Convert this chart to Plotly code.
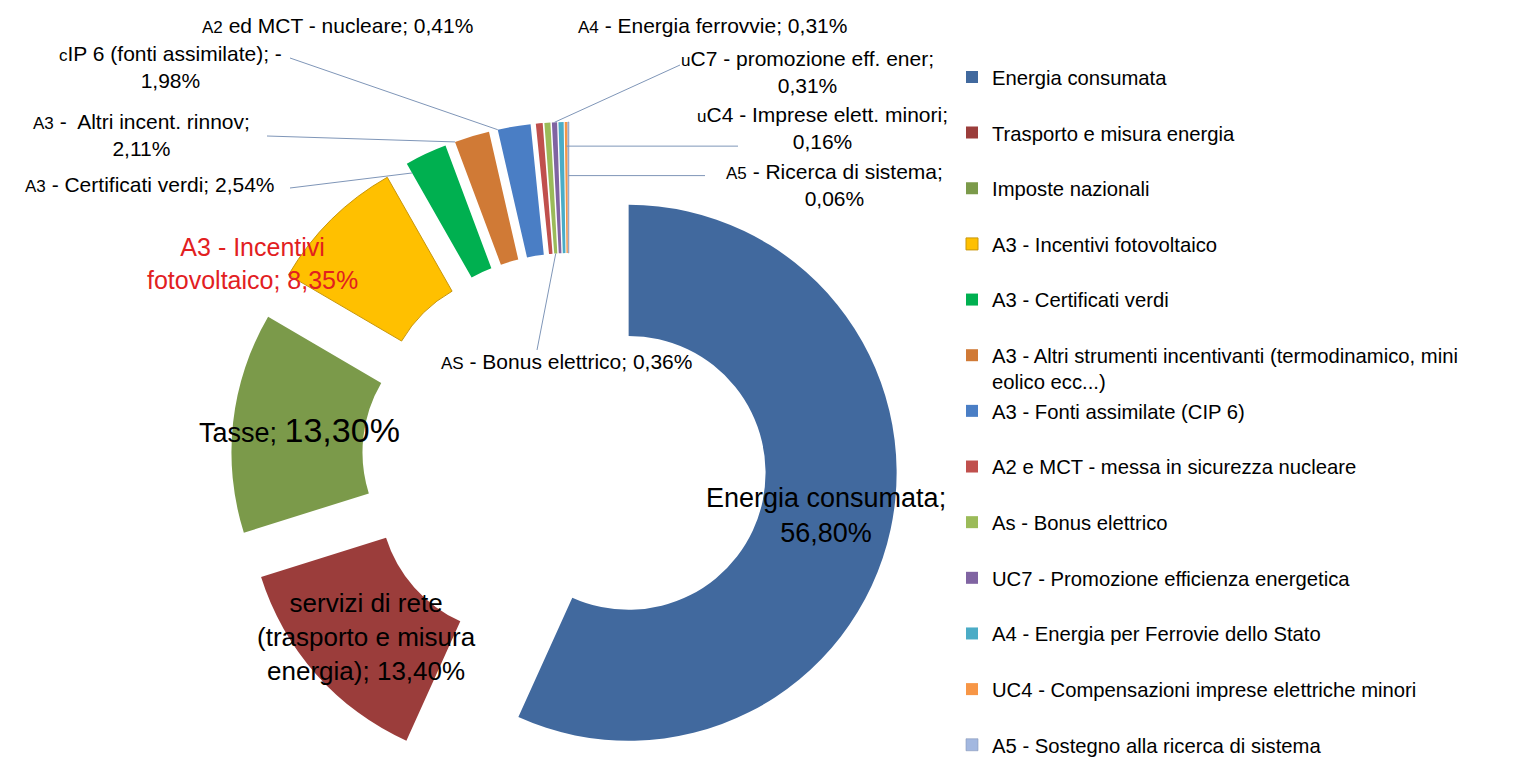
import math
import plotly.graph_objects as go

# ---------------- data ----------------
LEGEND_LABELS = [
    "Energia consumata",
    "Trasporto e misura energia",
    "Imposte nazionali",
    "A3 - Incentivi fotovoltaico",
    "A3 - Certificati verdi",
    "A3 - Altri strumenti incentivanti (termodinamico, mini<br>eolico ecc...)",
    "A3 - Fonti assimilate (CIP 6)",
    "A2 e MCT - messa in sicurezza nucleare",
    "As - Bonus elettrico",
    "UC7 - Promozione efficienza energetica",
    "A4 - Energia per Ferrovie dello Stato",
    "UC4 - Compensazioni imprese elettriche minori",
    "A5 - Sostegno alla ricerca di sistema",
]
VALUES = [56.80, 13.40, 13.30, 8.35, 2.54, 2.11, 1.98, 0.41, 0.36, 0.31, 0.31, 0.16, 0.06]


def sc(t, size=17):
    return "<span style='font-size:%dpx'>%s</span>" % (size, t)


SLICE_LABELS = [
    "Energia consumata;<br>{p}",
    "servizi di rete<br>(trasporto e misura<br>energia); {p}",
    "Tasse; <span style='font-size:34px'>{p}</span>",
    "A3 - Incentivi<br>fotovoltaico; {p}",
    sc("A3") + " - Certificati verdi; {p}",
    sc("A3") + " -  Altri incent. rinnov;<br>{p}",
    sc("c") + "IP 6 (fonti assimilate); -<br>{p}",
    sc("A2") + " ed MCT - nucleare; {p}",
    sc("AS") + " - Bonus elettrico; {p}",
    sc("u") + "C7 - promozione eff. ener;<br>{p}",
    sc("A4") + " - Energia ferrovvie; {p}",
    sc("u") + "C4 - Imprese elett. minori;<br>{p}",
    sc("A5") + " - Ricerca di sistema;<br>{p}",
]
COLORS = ["#41699E", "#9B3D3B", "#7B9A4A", "#FFC000", "#00B050", "#D07A36",
          "#4A7EC5", "#C0504D", "#9BBB59", "#8064A2", "#4BACC6", "#F79646", "#A3B8E0"]
LINE_COLORS = ["#41699E", "#9B3D3B", "#7B9A4A", "#C8960A", "#00B050", "#D07A36",
               "#4A7EC5", "#C0504D", "#9BBB59", "#8064A2", "#4BACC6", "#F79646", "#8797B8"]
LINE_WIDTHS = [0, 0, 0, 1, 0, 0, 0, 0, 0, 0, 0, 0, 0.6]

# ---------------- layout constants ----------------
W, H = 1522, 757
OFF = 8                          # page body margin: page px = figure px + OFF
CX, CY = 569.0, 460.0            # pie centre (page px)
R_OUT = 268.0                    # outer radius (px)
HOLE = 0.511
PULL_PX = [61] + [70] * 12       # explosion distance per slice (px)
FONT = "Liberation Sans, Arial, sans-serif"

LABEL_POS = [(826, 515), (366, 637), (299, 430), (252, 263), (150, 185), (141, 135),
             (170, 67), (337, 25), (566, 362), (807, 72), (712, 25), (822, 128), (834, 185)]
LABEL_SIZE = [27, 26, 27, 25, 21, 21, 21, 21, 21, 21, 21, 21, 21]
LABEL_COLOR = ["#000000"] * 13
LABEL_COLOR[3] = "#E2201F"

n = len(VALUES)
total = sum(VALUES)
starts, mids = [], []
acc = 0.0
for v in VALUES:
    a0 = acc / total * 360.0
    acc += v
    a1 = acc / total * 360.0
    starts.append(a0)
    mids.append((a0 + a1) / 2.0)


def unit(deg):
    t = math.radians(deg)
    return math.sin(t), -math.cos(t)


centers = []
for i in range(n):
    ux, uy = unit(mids[i])
    sx = CX + PULL_PX[i] * ux
    sy = CY + PULL_PX[i] * uy
    sx = min(max(sx, R_OUT + OFF), W + OFF - R_OUT)
    sy = min(max(sy, R_OUT + OFF), H + OFF - R_OUT - 0.5)
    centers.append((sx, sy))


def clamp01(v):
    return min(max(v, 0.0), 1.0)


def fx(x):
    return (x - OFF) / W


def fy(y):
    return 1.0 - (y - OFF) / H


fig = go.Figure()

# legend-carrying trace (drawn at a negligible size)
fig.add_trace(go.Pie(
    labels=LEGEND_LABELS, values=VALUES, sort=False, direction="clockwise",
    marker=dict(colors=COLORS, line=dict(color=LINE_COLORS, width=LINE_WIDTHS)),
    textinfo="none", hoverinfo="skip", showlegend=True,
    domain=dict(x=[0.9996, 1.0], y=[0.9996, 1.0]),
))

# one trace per slice, each centred at its exploded position
for i in range(n):
    sx, sy = centers[i]
    cols = [COLORS[j] if j == i else "rgba(0,0,0,0)" for j in range(n)]
    lw = [LINE_WIDTHS[j] if j == i else 0 for j in range(n)]
    fig.add_trace(go.Pie(
        labels=LEGEND_LABELS, values=VALUES, sort=False, direction="clockwise",
        rotation=0, hole=HOLE, textinfo="none", showlegend=False,
        marker=dict(colors=cols, line=dict(color=LINE_COLORS, width=lw)),
        hovertemplate="%{label}: %{value}%<extra></extra>",
        domain=dict(x=[clamp01(fx(sx - R_OUT)), clamp01(fx(sx + R_OUT))],
                    y=[clamp01(fy(sy + R_OUT)), clamp01(fy(sy - R_OUT))]),
    ))

# slice labels
annotations = []
for i in range(n):
    pct = ("%.2f" % VALUES[i]).replace(".", ",") + "%"
    txt = SLICE_LABELS[i].replace("{p}", pct)
    x, y = LABEL_POS[i]
    annotations.append(dict(
        x=fx(x), y=fy(y), xref="paper", yref="paper", text=txt, showarrow=False,
        xanchor="center", yanchor="middle", align="center",
        font=dict(family=FONT, size=LABEL_SIZE[i], color=LABEL_COLOR[i]),
    ))


def slice_point(i, rho_frac, ang):
    sx, sy = centers[i]
    ux, uy = unit(ang)
    return sx + R_OUT * rho_frac * ux, sy + R_OUT * rho_frac * uy


shapes = []
LINE_STYLE = dict(color="#7F96B8", width=1)


def leader(p_label, p_slice):
    shapes.append(dict(type="line", xref="paper", yref="paper",
                       x0=fx(p_label[0]), y0=fy(p_label[1]),
                       x1=fx(p_slice[0]), y1=fy(p_slice[1]), line=LINE_STYLE))


leader((290, 188), slice_point(4, 0.96, starts[4]))
leader((267, 136), slice_point(5, 1.0, starts[5]))
leader((290, 58), slice_point(6, 1.0, starts[6]))
leader((537, 350), slice_point(8, HOLE, mids[8]))
leader((680, 65), slice_point(9, 1.0, mids[9]))
p = slice_point(11, 0.91, mids[11])
leader((738, p[1]), p)
p = slice_point(12, 0.80, mids[12])
leader((705, p[1]), p)

legend_text = []
for k, lab in enumerate(LEGEND_LABELS):
    if "<br>" in lab or k == n - 1:
        legend_text.append(lab)
    else:
        legend_text.append(lab + "<br>\u00a0")
fig.data[0].labels = legend_text

fig.update_layout(
    width=W, height=H,
    margin=dict(l=0, r=0, t=0, b=0, autoexpand=False),
    paper_bgcolor="white", plot_bgcolor="white",
    annotations=annotations, shapes=shapes,
    legend=dict(x=944 / W, y=1 - 49.3 / H, xanchor="left", yanchor="top",
                font=dict(family=FONT, size=20.25, color="#000000"),
                valign="top", bgcolor="rgba(0,0,0,0)", borderwidth=0),
)

fig.write_html("out.html")
